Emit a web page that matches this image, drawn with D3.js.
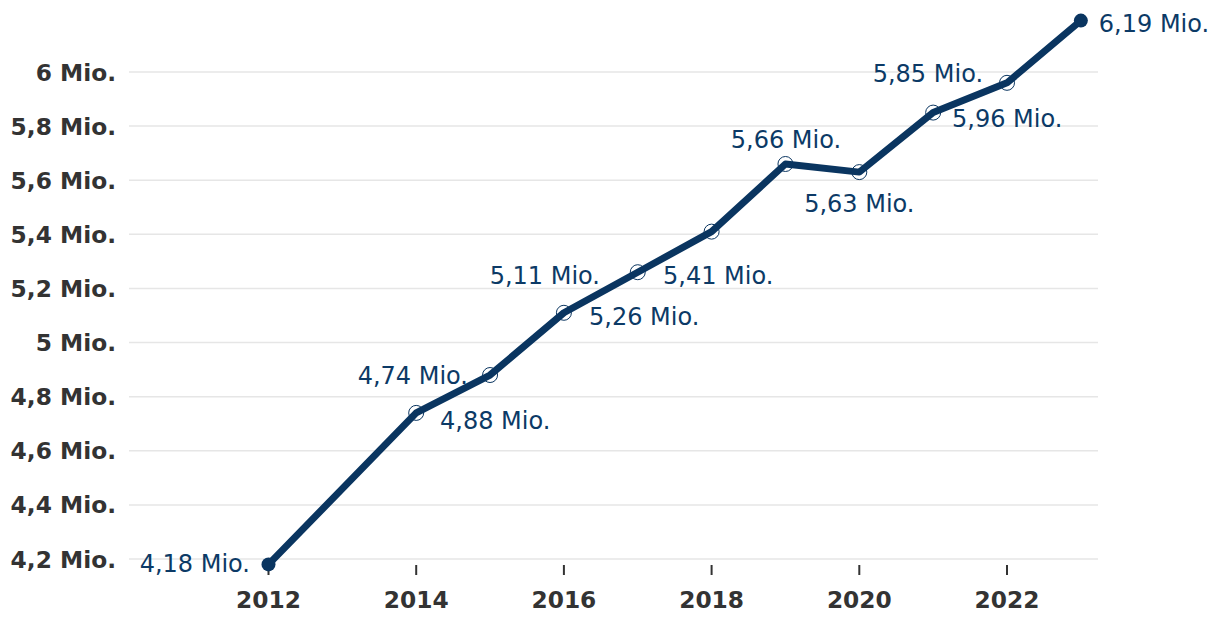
<!DOCTYPE html>
<html>
<head>
<meta charset="utf-8">
<script src="https://cdn.jsdelivr.net/npm/d3@7"></script>
<style>
  html, body { margin: 0; padding: 0; background: #fff; }
  svg { display: block; font-family: "DejaVu Sans", Verdana, sans-serif; }
</style>
</head>
<body>
<svg id="chart" width="1220" height="628"></svg>
<script>
// ---- data ----
const years  = [2012, 2014, 2015, 2016, 2017, 2018, 2019, 2020, 2021, 2022, 2023];
const values = [4.18, 4.74, 4.88, 5.11, 5.26, 5.41, 5.66, 5.63, 5.85, 5.96, 6.19];
const yTicks = [4.2, 4.4, 4.6, 4.8, 5.0, 5.2, 5.4, 5.6, 5.8, 6.0];
const xTicks = [2012, 2014, 2016, 2018, 2020, 2022];

// ---- label placement (style: offsets relative to each point) ----
const labelAnchor = ["end", "end", "start", "end", "start", "start", "middle", "middle", "end", "start", "start"];
const labelDx     = [-18.5, 51.8, -50, 36.1, -48.75, -48.6, 0.5, 0, 49.9, -55, 18];
const labelDy     = [7.6, -28.9, 53.9, -28.8, 52.7, 52.3, -16, 39.8, -30.7, 44.1, 11.3];

const fmtNum = v => {
  const s = (Math.round(v * 100) / 100).toString().replace(".", ",");
  return s + " Mio.";
};

const svg = d3.select("#chart");
const lineColor = "#0a3560";
const labelColor = "#0c3a66";

const x = d3.scaleLinear().domain([2012, 2022]).range([268.5, 1007]);
const y = d3.scaleLinear().domain([4.2, 6.0]).range([559, 72]);
const gridX0 = 129, gridX1 = 1098;

// gridlines
svg.append("g").selectAll("line").data(yTicks).join("line")
  .attr("x1", gridX0).attr("x2", gridX1)
  .attr("y1", d => y(d)).attr("y2", d => y(d))
  .attr("stroke", "#e6e6e6").attr("stroke-width", 1.5);

// y axis labels
svg.append("g").selectAll("text").data(yTicks).join("text")
  .attr("x", 116).attr("y", d => y(d) + 8.5)
  .attr("text-anchor", "end")
  .attr("font-size", "23.3px").attr("font-weight", "bold").attr("fill", "#333")
  .text(d => (Math.round(d * 10) / 10).toString().replace(".", ",") + " Mio.");

// x ticks
const xg = svg.append("g");
xg.selectAll("line").data(xTicks).join("line")
  .attr("x1", d => x(d)).attr("x2", d => x(d))
  .attr("y1", 565).attr("y2", 575)
  .attr("stroke", "#333").attr("stroke-width", 2);
xg.selectAll("text").data(xTicks).join("text")
  .attr("x", d => x(d)).attr("y", 608)
  .attr("text-anchor", "middle")
  .attr("font-size", "23.3px").attr("font-weight", "bold").attr("fill", "#333")
  .text(d => d);

const pts = years.map((yr, i) => ({ yr, v: values[i], i }));

// hollow markers below the line (interior points)
svg.append("g").selectAll("circle").data(pts.slice(1, -1)).join("circle")
  .attr("cx", d => x(d.yr)).attr("cy", d => y(d.v)).attr("r", 7.5)
  .attr("fill", "#fff").attr("stroke", lineColor).attr("stroke-width", 1);

// line
svg.append("path").datum(pts)
  .attr("d", d3.line().x(d => x(d.yr)).y(d => y(d.v)))
  .attr("fill", "none").attr("stroke", lineColor)
  .attr("stroke-width", 7).attr("stroke-linejoin", "round");

// filled end markers
svg.append("g").selectAll("circle").data([pts[0], pts[pts.length - 1]]).join("circle")
  .attr("cx", d => x(d.yr)).attr("cy", d => y(d.v)).attr("r", 7)
  .attr("fill", lineColor);

// data labels
svg.append("g").selectAll("text").data(pts).join("text")
  .attr("x", d => x(d.yr) + labelDx[d.i])
  .attr("y", d => y(d.v) + labelDy[d.i])
  .attr("text-anchor", d => labelAnchor[d.i])
  .attr("font-size", "24px").attr("fill", labelColor)
  .text(d => fmtNum(d.v));
</script>
</body>
</html>
